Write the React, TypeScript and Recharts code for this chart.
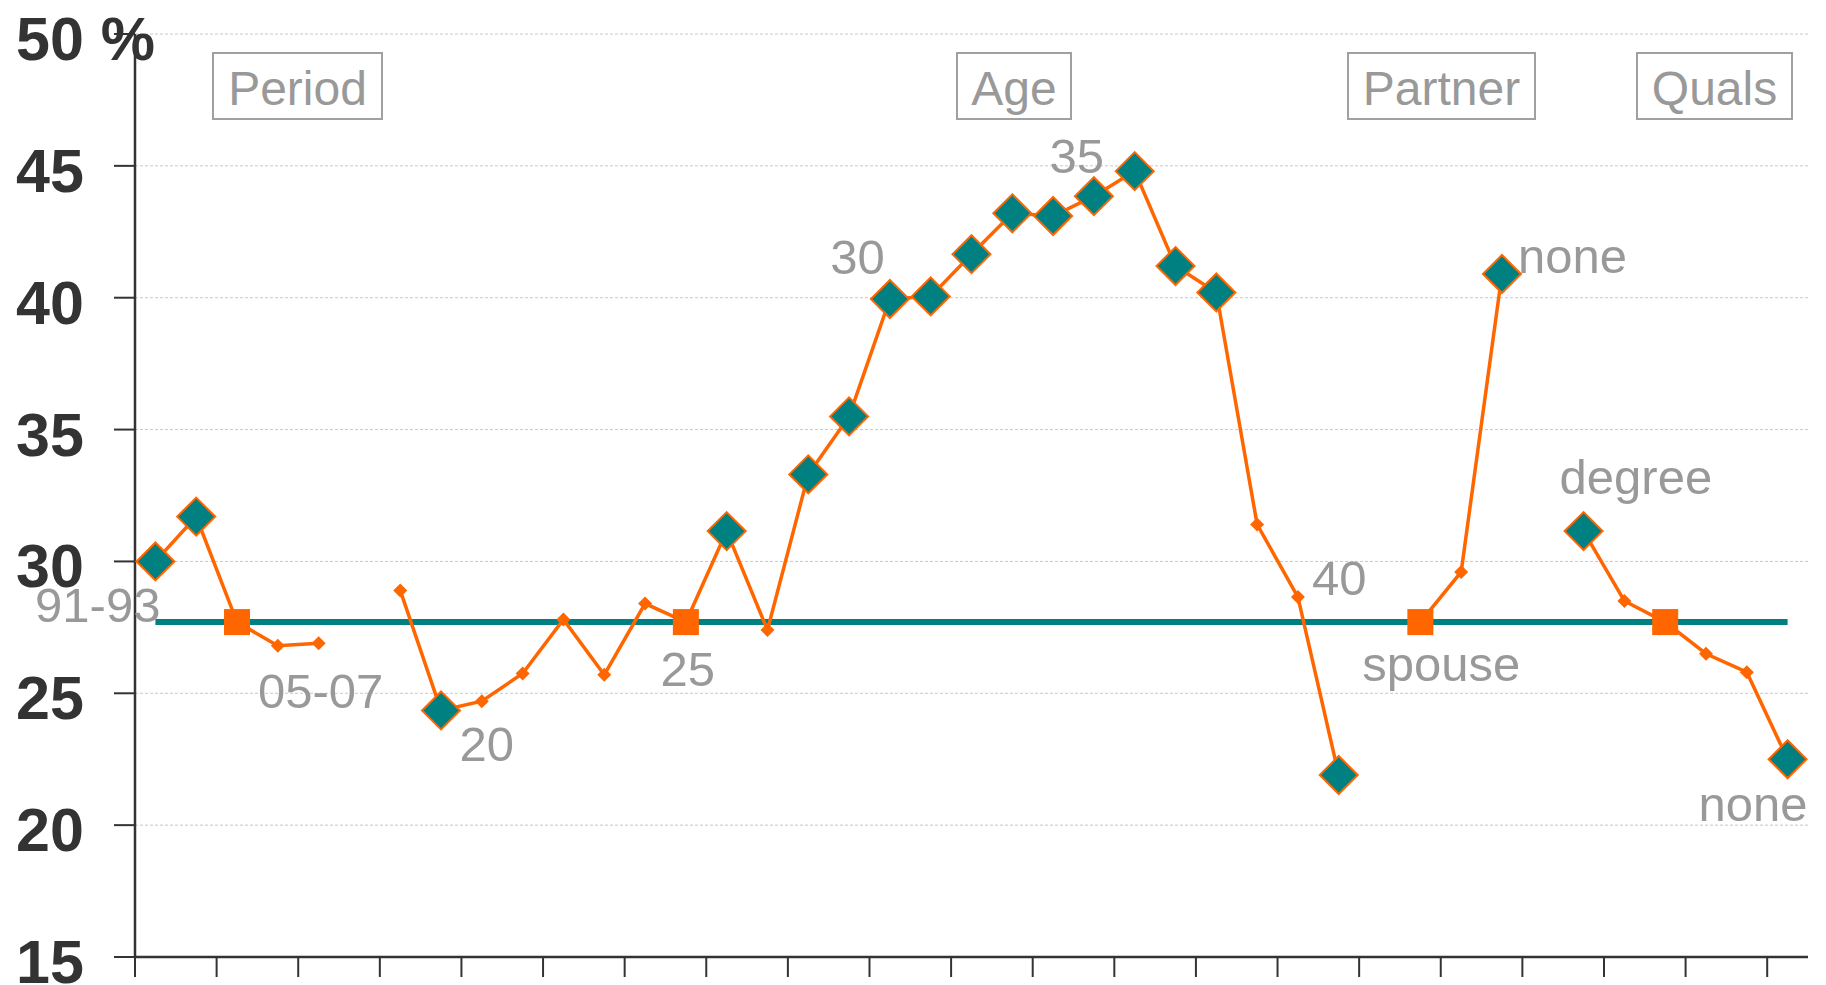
import { ComposedChart, Line, XAxis, YAxis, CartesianGrid, LabelList } from 'recharts';

// 41 category slots: period, age, partner, quals (blank slots are the gaps)
const categories = [
  '91-93', '94-96', '97-00', '01-04', '05-07', '',
  '18', '19', '20', '21', '22', '23', '24', '25', '26', '27', '28', '29', '30', '31', '32', '33',
  '34', '35', '36', '37', '38', '39', '40', '41', '',
  'spouse', 'cohabiting', 'none', '',
  'degree', 'higher', 'A-level', 'GCSE', 'other', 'none',
];

const shareValues: (number | null)[] = [
  30.0, 31.7, 27.7, 26.8, 26.9, null,
  28.9, 24.35, 24.7, 25.75, 27.8, 25.7, 28.4, 27.7, 31.15, 27.4, 33.3, 35.5, 39.95, 40.05, 41.65, 43.2,
  43.1, 43.85, 44.8, 41.2, 40.2, 31.4, 28.65, 21.9, null,
  27.7, 29.6, 40.9, null,
  31.15, 28.5, 27.7, 26.5, 25.8, 22.5,
];

const overallShare = 27.7;

// significantly different from the base category
const significant = [0, 1, 7, 14, 16, 17, 18, 19, 20, 21, 22, 23, 24, 25, 26, 29, 33, 35, 40];
// base (reference) categories
const baseCategories = [2, 13, 31, 37];

const pointLabels: Record<number, string> = {
  0: '91-93',
  4: '05-07',
  8: '20',
  13: '25',
  18: '30',
  23: '35',
  28: '40',
  31: 'spouse',
  33: 'none',
  35: 'degree',
  40: 'none',
};

const groupTitles = ['Period', 'Age', 'Partner', 'Quals'];

const yTicks = [15, 20, 25, 30, 35, 40, 45, 50];
const xTicks = [0, 2, 4, 6, 8, 10, 12, 14, 16, 18, 20, 22, 24, 26, 28, 30, 32, 34, 36, 38, 40];

const data = categories.map((name, i) => ({
  name,
  x: i + 0.5,
  share: shareValues[i],
  overall: overallShare,
}));

const TEAL = '#008080';
const ORANGE = '#FF6600';
const GREY = '#999999';
const FONT = '"Liberation Sans", Arial, sans-serif';

const labelPlacement: Record<number, { dx: number; dy: number; anchor: 'start' | 'middle' | 'end' }> = {
  0: { dx: 5, dy: 61, anchor: 'end' },
  4: { dx: 2, dy: 65, anchor: 'middle' },
  8: { dx: 5, dy: 60, anchor: 'middle' },
  13: { dx: 2, dy: 64, anchor: 'middle' },
  18: { dx: -5, dy: -25, anchor: 'end' },
  23: { dx: 10, dy: -23, anchor: 'end' },
  28: { dx: 14, dy: -2, anchor: 'start' },
  31: { dx: -58, dy: 59, anchor: 'start' },
  33: { dx: 16, dy: -1, anchor: 'start' },
  35: { dx: -24, dy: -37, anchor: 'start' },
  40: { dx: 20, dy: 62, anchor: 'end' },
};

const boxPlacement = [
  { x: 213, w: 169 },
  { x: 957, w: 114 },
  { x: 1348, w: 187 },
  { x: 1637, w: 155 },
];

function YTick({ y, payload }: any) {
  return (
    <text x={16} y={y + 26} fontSize={61} fontWeight="bold" fill="#333" fontFamily={FONT}>
      {payload.value === 50 ? '50 %' : payload.value}
    </text>
  );
}

const renderDot = (props: any) => {
  const { cx, cy, index } = props;
  const key = `dot-${index}`;
  if (cx == null || cy == null || shareValues[index] == null) return <g key={key} />;
  if (significant.includes(index)) {
    const r = 19;
    return (
      <path
        key={key}
        d={`M${cx},${cy - r}L${cx + r},${cy}L${cx},${cy + r}L${cx - r},${cy}Z`}
        fill={TEAL}
        stroke={ORANGE}
        strokeWidth={2}
      />
    );
  }
  if (baseCategories.includes(index)) {
    return <rect key={key} x={cx - 13} y={cy - 13} width={26} height={26} fill={ORANGE} />;
  }
  const r = 7;
  return <path key={key} d={`M${cx},${cy - r}L${cx + r},${cy}L${cx},${cy + r}L${cx - r},${cy}Z`} fill={ORANGE} />;
};

const renderLabel = (props: any) => {
  const index = props.index;
  const text = pointLabels[index];
  if (!text) return null;
  const x = props.x ?? props.viewBox?.x;
  const y = props.y ?? props.viewBox?.y;
  if (x == null || y == null) return null;
  const p = labelPlacement[index];
  return (
    <text key={`lbl-${index}`} x={x + p.dx} y={y + p.dy} textAnchor={p.anchor} fontSize={49} fill={GREY} fontFamily={FONT}>
      {text}
    </text>
  );
};

export default function App() {
  return (
    <div style={{ position: 'absolute', left: 0, top: 0, width: 1826, height: 985, background: '#fff' }}>
      <ComposedChart width={1826} height={985} data={data} margin={{ top: 34, right: 18, left: 0, bottom: 0 }}>
        <CartesianGrid vertical={false} stroke="#c8c8c8" strokeDasharray="3 2" />
        <XAxis
          dataKey="x"
          type="number"
          domain={[0, 41]}
          ticks={xTicks}
          tickFormatter={() => ''}
          tickSize={20}
          height={28}
          axisLine={{ stroke: '#333', strokeWidth: 2.5 }}
          tickLine={{ stroke: '#333', strokeWidth: 2 }}
          allowDataOverflow
        />
        <YAxis
          domain={[15, 50]}
          ticks={yTicks}
          width={135}
          tickSize={21}
          tick={<YTick />}
          axisLine={{ stroke: '#333', strokeWidth: 2.5 }}
          tickLine={{ stroke: '#333', strokeWidth: 2 }}
          allowDataOverflow
        />
        <Line
          dataKey="overall"
          stroke={TEAL}
          strokeWidth={6}
          dot={false}
          activeDot={false}
          isAnimationActive={false}
        />
        <Line
          dataKey="share"
          stroke={ORANGE}
          strokeWidth={3.5}
          dot={renderDot}
          activeDot={false}
          isAnimationActive={false}
        >
          <LabelList dataKey="share" content={renderLabel} />
        </Line>
      </ComposedChart>
      <svg width={1826} height={985} style={{ position: 'absolute', left: 0, top: 0, pointerEvents: 'none' }}>
        {groupTitles.map((t, i) => {
          const b = boxPlacement[i];
          return (
            <g key={t}>
              <rect x={b.x} y={53} width={b.w} height={66} fill="#fff" stroke="#a0a0a0" strokeWidth={2} />
              <text x={b.x + b.w / 2} y={105} textAnchor="middle" fontSize={48} fill={GREY} fontFamily={FONT}>
                {t}
              </text>
            </g>
          );
        })}
      </svg>
    </div>
  );
}
